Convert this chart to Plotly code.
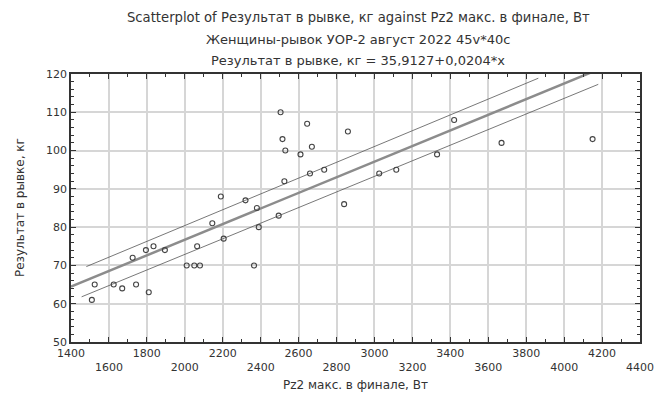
import plotly.graph_objects as go

power_w = [1510, 1525, 1625, 1670, 1725, 1743, 1795, 1810, 1835, 1895,
           2010, 2050, 2080, 2065, 2145, 2190, 2205, 2320, 2365, 2380,
           2390, 2495, 2505, 2515, 2525, 2530, 2610, 2645, 2660, 2670,
           2735, 2840, 2860, 3025, 3115, 3330, 3420, 3670, 4150]
snatch_kg = [61, 65, 65, 64, 72, 65, 74, 63, 75, 74,
             70, 70, 70, 75, 81, 88, 77, 87, 70, 85,
             80, 83, 110, 103, 92, 100, 99, 107, 94, 101,
             95, 86, 105, 94, 95, 99, 108, 102, 103]

# Regression from the chart subtitle
intercept = 35.9127
slope = 0.0204
fit_x = [1400, 4400]

# Confidence band ends
band_upper_x = [1481, 3864]
band_upper_y = [69.7, 118.9]
band_lower_x = [1456, 4180]
band_lower_y = [61.8, 117.3]

x_ticks = list(range(1400, 4401, 200))
y_ticks = list(range(50, 121, 10))
x_ticktext = [str(v) if i % 2 == 0 else "<br>" + str(v) for i, v in enumerate(x_ticks)]

title1 = "Scatterplot of Pезультат в рывке, кг against Pz2 макс. в финале, Вт"
title2 = "Женщины-рывок УОР-2 август 2022 45v*40c"
title3 = "Результат в рывке, кг = 35,9127+0,0204*x"
x_title = "Pz2 макс. в финале, Вт"
y_title = "Результат в рывке, кг"

FONT = "DejaVu Sans"
TXT = "#333333"

fig = go.Figure()
fig.add_trace(go.Scatter(
    x=fit_x, y=[intercept + slope * v for v in fit_x], mode="lines",
    line=dict(color="#8c8c8c", width=2.5), hoverinfo="skip", showlegend=False))
fig.add_trace(go.Scatter(
    x=band_upper_x, y=band_upper_y, mode="lines",
    line=dict(color="#555555", width=0.8), showlegend=False))
fig.add_trace(go.Scatter(
    x=band_lower_x, y=band_lower_y, mode="lines",
    line=dict(color="#555555", width=0.8), showlegend=False))
fig.add_trace(go.Scatter(
    x=power_w, y=snatch_kg, mode="markers",
    marker=dict(symbol="circle-open", size=5, color="#444444", line=dict(width=1.1)),
    showlegend=False))

axis_common = dict(
    showline=True, linecolor="#333333", linewidth=1.8, mirror="ticks",
    ticks="inside", ticklen=5, tickcolor="#333333", tickwidth=1,
    showgrid=True, gridcolor="#d6d6d6", gridwidth=1.5, zeroline=False,
    automargin=False,
    tickfont=dict(family=FONT, size=11, color=TXT),
)

fig.update_xaxes(range=[1400, 4400], tickvals=x_ticks, ticktext=x_ticktext,
                 minor=dict(ticks="inside", dtick=100, ticklen=3, tickcolor="#333333", showgrid=False),
                 **axis_common)
fig.update_yaxes(range=[50, 120], tickvals=y_ticks,
                 minor=dict(ticks="inside", dtick=2, ticklen=3, tickcolor="#333333", showgrid=False),
                 **axis_common)

annotations = [
    dict(text=title1, x=0.505, y=1.209, size=13.2),
    dict(text=title2, x=0.505, y=1.127, size=13),
    dict(text=title3, x=0.505, y=1.049, size=13),
    dict(text=x_title, x=0.5, y=-0.160, size=12),
    dict(text=y_title, x=-0.0896, y=0.5, textangle=-90, size=12),
]
for a in annotations:
    size = a.pop("size")
    fig.add_annotation(xref="paper", yref="paper", showarrow=False,
                       xanchor="center", yanchor="middle",
                       font=dict(family=FONT, size=size, color=TXT), **a)

fig.update_layout(
    width=657, height=394,
    margin=dict(l=71, r=17, t=74, b=52),
    paper_bgcolor="white", plot_bgcolor="white",
)

fig.write_html("out.html", config={"displayModeBar": False},
               post_script="document.body.style.margin='0px';")
